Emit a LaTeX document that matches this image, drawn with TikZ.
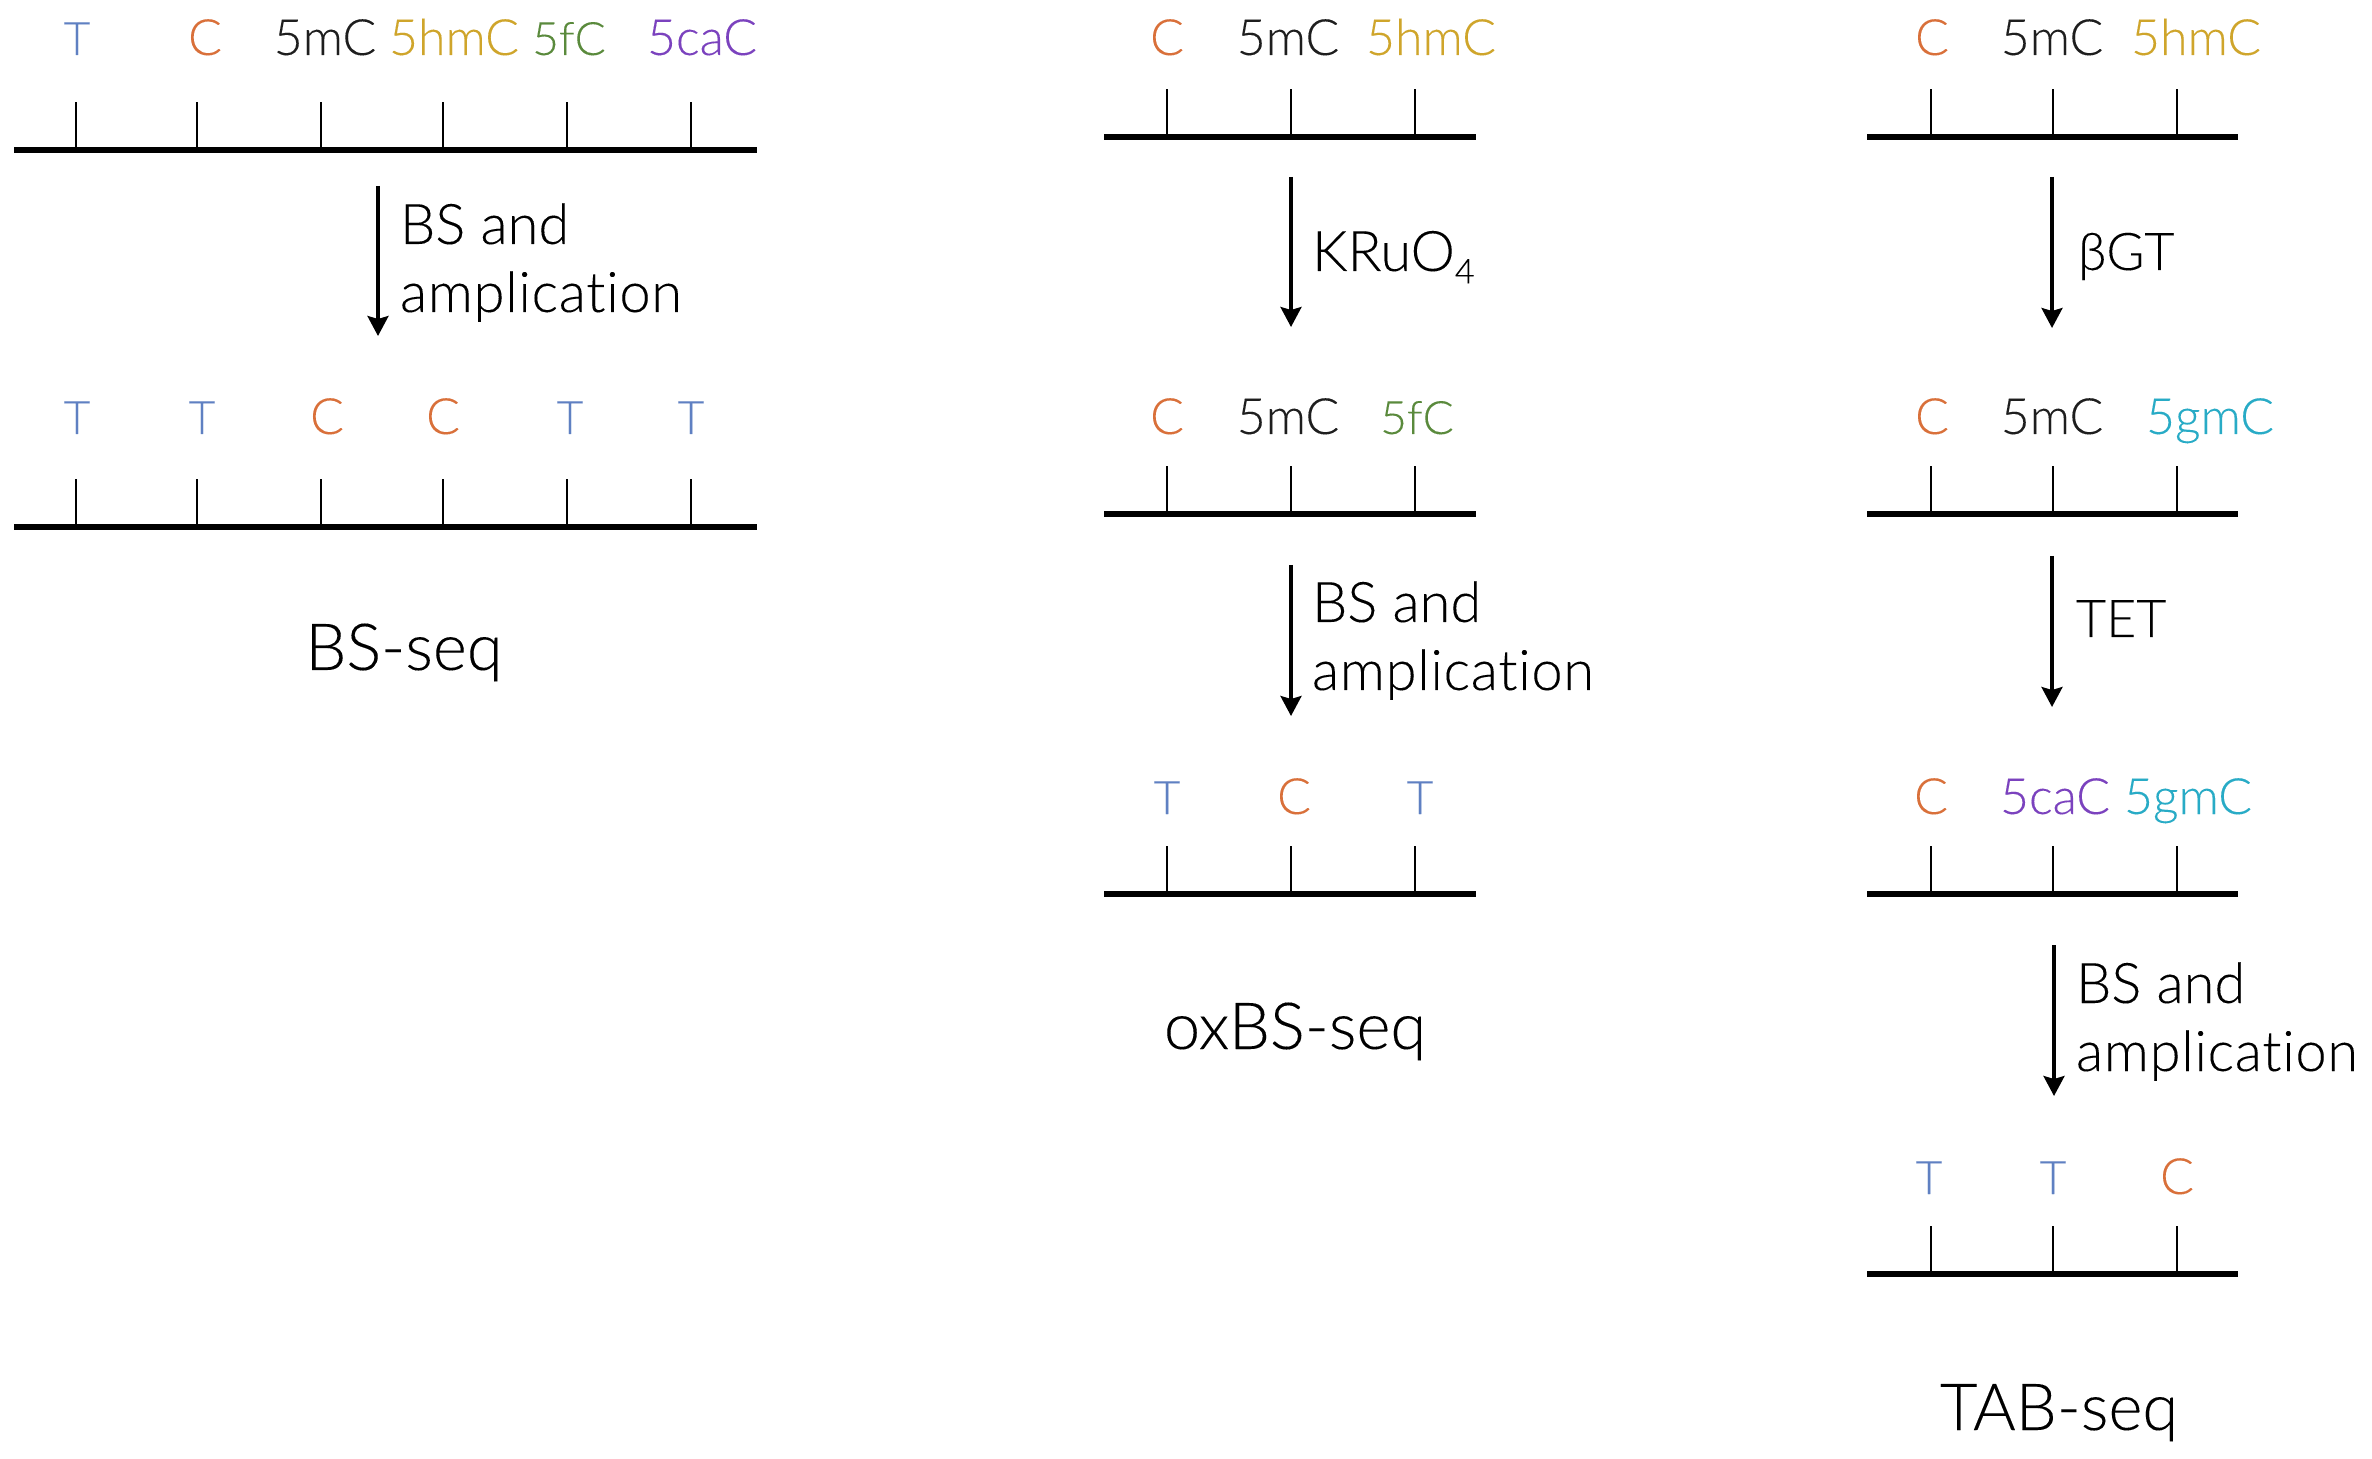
\documentclass[tikz,border=0pt]{standalone}
\usepackage{fontspec}
\usetikzlibrary{arrows.meta}
\setmainfont{Lato Light}[Ligatures=NoCommon,FakeBold=0.12]
\definecolor{cT}{HTML}{5F80C2}
\definecolor{cC}{HTML}{D9703A}
\definecolor{cK}{HTML}{1E1E1E}
\definecolor{cH}{HTML}{CFA52B}
\definecolor{cF}{HTML}{5A8A3C}
\definecolor{cA}{HTML}{7B42BE}
\definecolor{cG}{HTML}{28ABC6}
\tikzset{
  x=0.5pt,y=-0.5pt,
  base/.style={inner sep=0pt,outer sep=0pt,anchor=base,font=\fontsize{25}{28}\selectfont},
  narrowlab/.style={base,font=\fontsize{23}{28}\selectfont},
  stepnote/.style={inner sep=0pt,outer sep=0pt,anchor=base west,align=left,font=\fontsize{28}{34}\selectfont,text=black},
  shortnote/.style={stepnote,font=\fontsize{26}{34}\selectfont},
  titlelab/.style={inner sep=0pt,outer sep=0pt,anchor=base,font=\fontsize{32.5}{34}\selectfont,text=black},
  backbone/.style={line width=3.3pt,black},
  tick/.style={line width=1.2pt,black},
  flow/.style={line width=1.6pt,black,-{Stealth[length=10pt,width=10.5pt,inset=1.5pt]}},
}
\newcommand{\ampl}{{\addfontfeature{LetterSpace=1.3}amplication}}
% \strand{name}{x left}{x right}{y}{tick xs}
\newcommand{\strand}[5]{%
  \coordinate (#1l) at (#2,#4);
  \coordinate (#1r) at (#3,#4);
  \draw[backbone] (#1l) -- (#1r);
  \foreach \tx in {#5} {\draw[tick] (\tx,#4) -- (\tx,#4-48);}
}
\newcommand{\flowarrow}[4]{%
  \coordinate (#1s) at (#2,#3);
  \coordinate (#1e) at (#2,#4);
  \draw[flow] (#1s) -- (#1e);
}
\begin{document}
\begin{tikzpicture}
\useasboundingbox[fill=white] (0,0) rectangle (2372,1459);
% ---------- BS-seq ----------
\node[narrowlab,text=cT] (a1) at (77,55) {T};
\node[base,text=cC] (a2) at (205,55) {C};
\node[base,text=cK] (a3) at (325,55) {5mC};
\node[base,text=cH] (a4) at (454,55) {5hmC};
\node[narrowlab,text=cF] (a5) at (569,55) {5fC};
\node[base,text=cA] (a6) at (702,55) {5caC};
\strand{A}{14}{757}{150}{76,197,321,443,567,691}
\flowarrow{fa}{378}{186}{336}
\node[stepnote] (na) at (400,312) {BS and\\\ampl};
\node[narrowlab,text=cT] (b1) at (77,434) {T};
\node[narrowlab,text=cT] (b2) at (202,434) {T};
\node[base,text=cC] (b3) at (327,434) {C};
\node[base,text=cC] (b4) at (443,434) {C};
\node[narrowlab,text=cT] (b5) at (570,434) {T};
\node[narrowlab,text=cT] (b6) at (691,434) {T};
\strand{B}{14}{757}{527}{76,197,321,443,567,691}
\node[titlelab] (ta) at (404,670) {BS-seq};
% ---------- oxBS-seq ----------
\node[base,text=cC] (c1) at (1167,55) {C};
\node[base,text=cK] (c2) at (1288,55) {5mC};
\node[base,text=cH] (c3) at (1431,55) {5hmC};
\strand{C}{1104}{1476}{137}{1167,1291,1415}
\flowarrow{fb}{1291}{177}{327}
\node[stepnote] (nb) at (1312,271) {KRuO\raisebox{-0.22em}{\fontsize{17}{17}\selectfont 4}};
\node[base,text=cC] (d1) at (1167,434) {C};
\node[base,text=cK] (d2) at (1288,434) {5mC};
\node[narrowlab,text=cF] (d3) at (1417,434) {5fC};
\strand{D}{1104}{1476}{514}{1167,1291,1415}
\flowarrow{fc}{1291}{565}{716}
\node[stepnote] (nc) at (1312,690) {BS and\\\ampl};
\node[narrowlab,text=cT] (e1) at (1167,814) {T};
\node[base,text=cC] (e2) at (1294,814) {C};
\node[narrowlab,text=cT] (e3) at (1420,814) {T};
\strand{E}{1104}{1476}{894}{1167,1291,1415}
\node[titlelab] (tb) at (1295,1049) {oxBS-seq};
% ---------- TAB-seq ----------
\node[base,text=cC] (f1) at (1932,55) {C};
\node[base,text=cK] (f2) at (2052,55) {5mC};
\node[base,text=cH] (f3) at (2196,55) {5hmC};
\strand{F}{1867}{2238}{137}{1931,2053,2177}
\flowarrow{fd}{2052}{177}{328}
\node[shortnote] (nd) at (2078,270) {βGT};
\node[base,text=cC] (g1) at (1932,434) {C};
\node[base,text=cK] (g2) at (2052,434) {5mC};
\node[base,text=cG] (g3) at (2210,434) {5gmC};
\strand{G}{1867}{2238}{514}{1931,2053,2177}
\flowarrow{fe}{2052}{556}{707}
\node[shortnote] (ne) at (2076,637) {TET};
\node[base,text=cC] (h1) at (1931,814) {C};
\node[base,text=cA] (h2) at (2055,814) {5caC};
\node[base,text=cG] (h3) at (2188,814) {5gmC};
\strand{H}{1867}{2238}{894}{1931,2053,2177}
\flowarrow{ff}{2054}{945}{1096}
\node[stepnote] (nf) at (2076,1071) {BS and\\\ampl};
\node[narrowlab,text=cT] (i1) at (1929,1194) {T};
\node[narrowlab,text=cT] (i2) at (2053,1194) {T};
\node[base,text=cC] (i3) at (2177,1194) {C};
\strand{I}{1867}{2238}{1274}{1931,2053,2177}
\node[titlelab] (tc) at (2059,1430) {TAB-seq};
\end{tikzpicture}
\end{document}
